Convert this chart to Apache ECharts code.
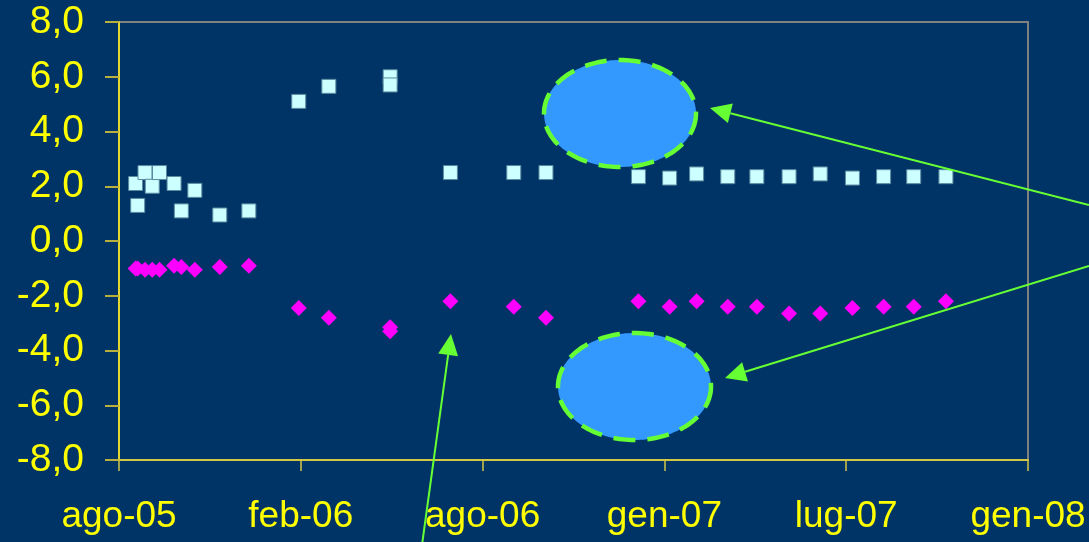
<!DOCTYPE html>
<html>
<head>
<meta charset="utf-8">
<script src="https://cdn.jsdelivr.net/npm/echarts@6/dist/echarts.min.js"></script>
<style>
html,body{margin:0;padding:0;background:#003366;}
#chart{width:1089px;height:542px;}
</style>
</head>
<body>
<div id="chart"></div>
<script>
// ---- data ----
const dates = [
  '2005-09-05','2005-09-07','2005-09-14','2005-09-21','2005-09-28',
  '2005-10-12','2005-10-19','2005-11-01','2005-11-25','2005-12-23',
  '2006-02-09','2006-03-10','2006-05-08','2006-05-08',
  '2006-07-05','2006-09-04','2006-10-05',
  '2007-01-02','2007-02-01','2007-02-27','2007-03-29','2007-04-26',
  '2007-05-27','2007-06-26','2007-07-27','2007-08-26','2007-09-24','2007-10-25'
];
const upperValues = [
  2.1, 1.3, 2.5, 2.0, 2.5,
  2.1, 1.1, 1.85, 0.95, 1.1,
  5.1, 5.65, 6.0, 5.7,
  2.5, 2.5, 2.5,
  2.35, 2.3, 2.45, 2.35, 2.35,
  2.35, 2.45, 2.3, 2.35, 2.35, 2.35
];
const lowerValues = [
  -1.0, -1.0, -1.05, -1.05, -1.05,
  -0.9, -0.95, -1.05, -0.95, -0.9,
  -2.45, -2.8, -3.15, -3.3,
  -2.2, -2.4, -2.8,
  -2.2, -2.4, -2.2, -2.4, -2.4,
  -2.65, -2.65, -2.45, -2.4, -2.4, -2.2
];
const monthNames = ['gen','feb','mar','apr','mag','giu','lug','ago','set','ott','nov','dic'];
const axisStart = '2005-08-20';
const tickStepDays = 175;
const tickCount = 5;
const yTicks = [-8, -6, -4, -2, 0, 2, 4, 6, 8];

// ---- helpers ----
function utc(s){ const p = s.split('-').map(Number); return Date.UTC(p[0], p[1]-1, p[2]); }
const t0 = utc(axisStart);
function dayOf(s){ return Math.round((utc(s) - t0) / 86400000); }
function fmtDay(v){
  const d = new Date(t0 + v * 86400000);
  return monthNames[d.getUTCMonth()] + '-' + String(d.getUTCFullYear() % 100).padStart(2,'0');
}
const upperData = dates.map((d,i) => [dayOf(d), upperValues[i]]);
const lowerData = dates.map((d,i) => [dayOf(d), lowerValues[i]]);

const chart = echarts.init(document.getElementById('chart'));
const FONT = '"Liberation Sans", Arial, sans-serif';
const GREEN = '#66FF33';

function ellipsePoints(cx, cy, rx, ry){
  const pts = [];
  for (let i = 0; i < 160; i++){
    const a = i / 160 * Math.PI * 2;
    pts.push([cx + rx * Math.cos(a), cy + ry * Math.sin(a)]);
  }
  return pts;
}
function arrow(tail, tip){
  const dx = tip[0]-tail[0], dy = tip[1]-tail[1];
  const L = Math.sqrt(dx*dx+dy*dy), ux = dx/L, uy = dy/L;
  const hl = 21, hw = 10;
  const bx = tip[0]-ux*hl, by = tip[1]-uy*hl;
  return [
    { type:'line', shape:{x1:tail[0], y1:tail[1], x2:bx, y2:by}, style:{stroke:GREEN, lineWidth:2}, z:100 },
    { type:'polygon', shape:{points:[[tip[0],tip[1]],[bx-uy*hw, by+ux*hw],[bx+uy*hw, by-ux*hw]]}, style:{fill:GREEN}, z:100 }
  ];
}

const graphics = [
  { type:'polygon', shape:{points:ellipsePoints(620,113.5,76,53.5)}, style:{fill:'#3399FF', stroke:GREEN, lineWidth:4.5, lineDash:[22,12]}, z:90 },
  { type:'polygon', shape:{points:ellipsePoints(634.5,386.5,76.5,53.5)}, style:{fill:'#3399FF', stroke:GREEN, lineWidth:4.5, lineDash:[22,12]}, z:90 }
].concat(arrow([1089,205],[710,108]), arrow([1089,266],[725,378]), arrow([422,545],[451,334]));

chart.setOption({
  backgroundColor: '#003366',
  animation: false,
  grid: { left:119, right:61, top:22, bottom:82, show:true, borderColor:'#808080', borderWidth:2, backgroundColor:'transparent' },
  xAxis: {
    type:'value', min:0, max:tickStepDays*tickCount, interval:tickStepDays,
    axisLine:{ show:true, onZero:false, lineStyle:{ color:'#D2C646', width:2 } },
    axisTick:{ show:true, length:11, lineStyle:{ color:'#D2C646', width:1.5 } },
    splitLine:{ show:false },
    axisLabel:{ color:'#FFFF00', fontSize:37, fontFamily:FONT, margin:38, formatter:fmtDay, showMinLabel:true, showMaxLabel:true }
  },
  yAxis: {
    type:'value', min:yTicks[0], max:yTicks[yTicks.length-1], interval:2,
    axisLine:{ show:true, lineStyle:{ color:'#E2D630', width:2 } },
    axisTick:{ show:true, length:14, lineStyle:{ color:'#B8B03C', width:2 } },
    splitLine:{ show:false },
    axisLabel:{ color:'#FFFF00', fontSize:39, fontFamily:FONT, margin:35, formatter: v => v.toFixed(1).replace('.', ',') }
  },
  series: [
    { type:'scatter', data: upperData, symbol:'rect', symbolSize:14,
      itemStyle:{ color:'#CCFFFF', borderColor:'#5A8AA0', borderWidth:1, opacity:1 }, z:3 },
    { type:'scatter', data: lowerData, symbol:'diamond', symbolSize:[16,16],
      itemStyle:{ color:'#FF00FF', opacity:1 }, z:3 }
  ],
  graphic: graphics
});
</script>
</body>
</html>
